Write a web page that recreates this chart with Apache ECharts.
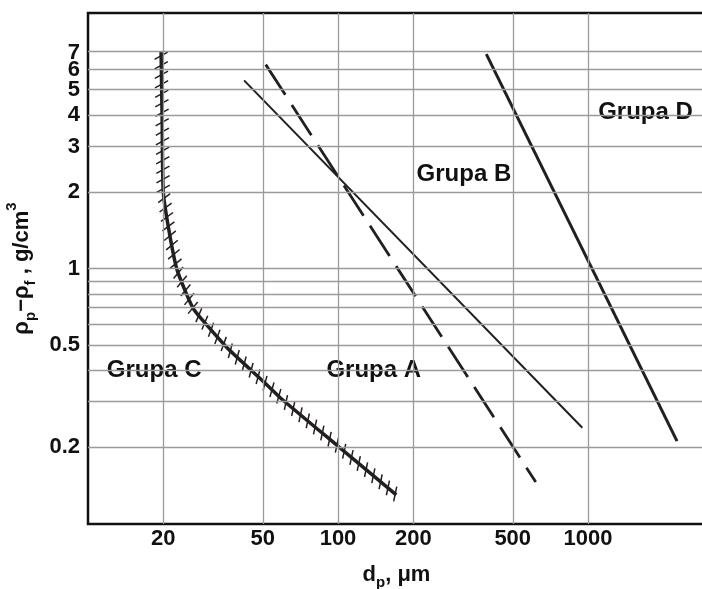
<!DOCTYPE html>
<html>
<head>
<meta charset="utf-8">
<script src="https://cdn.jsdelivr.net/npm/echarts@6/dist/echarts.min.js"></script>
<style>
  html, body { margin: 0; background: #fff; }
  #chart { width: 702px; height: 589px; }
</style>
</head>
<body>
<div id="chart"></div>
<script>
// ticks / gridlines
const xTicks = [20, 50, 100, 200, 500, 1000];
const yTicks = [0.2, 0.5, 1, 2, 3, 4, 5, 7];
const yTicksExtra = [6];
const yGrid = [0.2, 0.3, 0.4, 0.5, 0.6, 0.7, 0.8, 0.9, 1, 2, 3, 4, 5, 6, 7];

// granica C / A (kreskowana)
const curveCd = [19.6, 19.8, 20.0, 21.1, 22.7, 26.3, 29.9, 36.0, 44.9, 52.0, 59.2, 101, 171];
const curveCrho = [7.1, 3.8, 2.0, 1.4, 0.99, 0.70, 0.60, 0.49, 0.40, 0.35, 0.31, 0.20, 0.13];

// granica A / B (przerywana)
const lineAd = [51.4, 618];
const lineArho = [6.28, 0.146];

// linia cienka
const lineBd = [42.1, 949];
const lineBrho = [5.45, 0.238];

// granica B / D
const lineDd = [392, 2270];
const lineDrho = [6.9, 0.211];

// opisy grup
const groupNames = ['Grupa A', 'Grupa B', 'Grupa C', 'Grupa D'];
const groupD = [139, 319, 18.4, 1698];
const groupRho = [0.40, 2.34, 0.40, 4.09];

const lg = Math.log10;
const pairs = (xs, ys) => xs.map((x, i) => [lg(x), lg(ys[i])]);

const FONT = 'Liberation Sans, Arial, sans-serif';
const INK = '#231f20';

function renderHatch(params, api) {
  const pts = curveCd.map((d, i) => api.coord([lg(d), lg(curveCrho[i])]));
  const children = [];
  const step = 9.5, half = 7.5, rot = 28 * Math.PI / 180;
  let carry = step / 2;
  for (let i = 0; i < pts.length - 1; i++) {
    const [x1, y1] = pts[i], [x2, y2] = pts[i + 1];
    const len = Math.hypot(x2 - x1, y2 - y1);
    const tx = (x2 - x1) / len, ty = (y2 - y1) / len;
    // normal to the upper right, tilted upward
    const nx0 = ty, ny0 = -tx;
    const nx = nx0 * Math.cos(rot) + ny0 * Math.sin(rot);
    const ny = -nx0 * Math.sin(rot) + ny0 * Math.cos(rot);
    let s = carry;
    while (s < len) {
      const px = x1 + tx * s, py = y1 + ty * s;
      children.push({
        type: 'line',
        shape: { x1: px - nx * half, y1: py - ny * half, x2: px + nx * half, y2: py + ny * half },
        style: { stroke: INK, lineWidth: 1.5 }
      });
      s += step;
    }
    carry = s - len;
  }
  return { type: 'group', children };
}

const yLabel = (values) => ({
  customValues: values.map(lg),
  formatter: v => String(+Math.pow(10, v).toPrecision(2)),
  fontFamily: FONT, fontSize: 22, fontWeight: 'bold', color: '#111', margin: 8
});

const chart = echarts.init(document.getElementById('chart'));
chart.setOption({
  animation: false,
  backgroundColor: '#fff',
  grid: {
    left: 88, top: 13, right: -3, height: 511,
    outerBoundsMode: 'none',
    containLabel: false,
    show: true, borderColor: '#111', borderWidth: 2.5, backgroundColor: '#fff'
  },
  xAxis: {
    type: 'value',
    min: 1, max: 3.468,
    axisLine: { show: false },
    axisTick: { show: false },
    splitLine: { show: false },
    axisLabel: {
      customValues: xTicks.map(lg),
      formatter: v => String(Math.round(Math.pow(10, v))),
      fontFamily: FONT, fontSize: 22, fontWeight: 'bold', color: '#111', margin: 4
    },
    name: '{r|d}{s|p}{r|, μm}',
    nameLocation: 'middle',
    nameGap: 36,
    nameTextStyle: {
      color: '#111',
      rich: {
        r: { fontFamily: FONT, fontSize: 22, fontWeight: 'bold', color: '#111', lineHeight: 30 },
        s: { fontFamily: FONT, fontSize: 15, fontWeight: 'bold', color: '#111', lineHeight: 15, verticalAlign: 'bottom' }
      }
    }
  },
  yAxis: [
    {
      type: 'value',
      min: -1, max: 1,
      axisLine: { show: false },
      axisTick: { show: false },
      splitLine: { show: false },
      axisLabel: yLabel(yTicks),
      name: '{r|ρ}{s|p}{r|−ρ}{s|f}{r| , g/cm}{u|3}',
      nameLocation: 'middle',
      nameGap: 46,
      nameTextStyle: {
        color: '#111',
        rich: {
          r: { fontFamily: FONT, fontSize: 22, fontWeight: 'bold', color: '#111', lineHeight: 34 },
          s: { fontFamily: FONT, fontSize: 15, fontWeight: 'bold', color: '#111', lineHeight: 15, verticalAlign: 'bottom' },
          u: { fontFamily: FONT, fontSize: 15, fontWeight: 'bold', color: '#111', lineHeight: 15, verticalAlign: 'top' }
        }
      }
    },
    {
      type: 'value',
      position: 'left',
      min: -1, max: 1,
      axisLine: { show: false },
      axisTick: { show: false },
      splitLine: { show: false },
      axisLabel: yLabel(yTicksExtra)
    }
  ],
  series: [
    {
      name: 'siatka',
      type: 'line',
      z: 1,
      data: [],
      silent: true,
      markLine: {
        silent: true,
        symbol: ['none', 'none'],
        label: { show: false },
        lineStyle: { color: '#9a9a9a', width: 1.3, type: 'solid' },
        data: [
          ...xTicks.map(v => ({ xAxis: lg(v) })),
          ...yGrid.map(v => ({ yAxis: lg(v) }))
        ]
      }
    },
    {
      name: 'C/A',
      type: 'line',
      z: 3,
      data: pairs(curveCd, curveCrho),
      smooth: 0.2,
      showSymbol: false,
      lineStyle: { color: INK, width: 3.5 }
    },
    {
      name: 'kreskowanie',
      type: 'custom',
      z: 3,
      clip: true,
      data: [[1.3, 0]],
      renderItem: renderHatch
    },
    {
      name: 'A/B',
      type: 'line',
      z: 3,
      data: pairs(lineAd, lineArho),
      showSymbol: false,
      lineStyle: { color: INK, width: 2.8, type: [36, 12] }
    },
    {
      name: 'B',
      type: 'line',
      z: 3,
      data: pairs(lineBd, lineBrho),
      showSymbol: false,
      lineStyle: { color: INK, width: 2 }
    },
    {
      name: 'B/D',
      type: 'line',
      z: 3,
      data: pairs(lineDd, lineDrho),
      showSymbol: false,
      lineStyle: { color: INK, width: 3 }
    },
    {
      name: 'opisy',
      type: 'scatter',
      z: 4,
      symbolSize: 1,
      itemStyle: { color: 'rgba(0,0,0,0)', opacity: 1 },
      data: groupNames.map((n, i) => ({ name: n, value: [lg(groupD[i]), lg(groupRho[i])] })),
      label: {
        show: true,
        position: 'inside',
        formatter: p => p.name,
        fontFamily: FONT, fontSize: 24, fontWeight: 'bold', color: '#111',
        backgroundColor: '#fff', padding: [0, 2]
      }
    }
  ]
});
</script>
</body>
</html>
